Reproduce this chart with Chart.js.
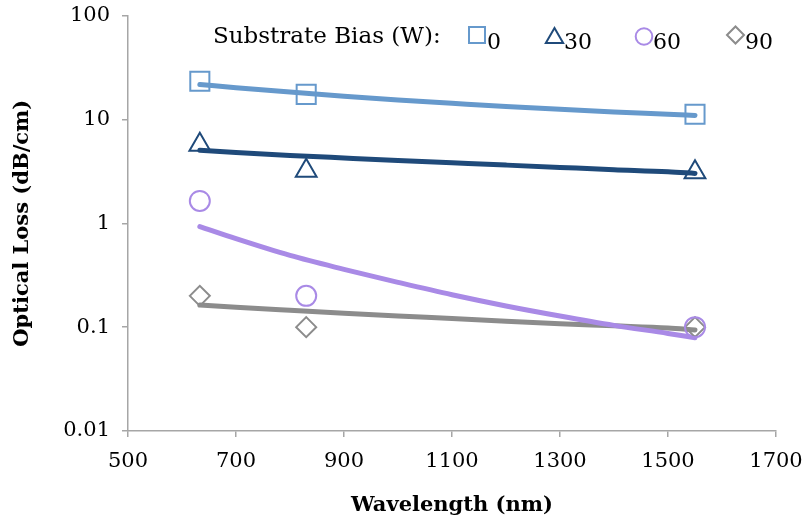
<!DOCTYPE html>
<html>
<head>
<meta charset="utf-8">
<script src="https://cdn.jsdelivr.net/npm/chart.js@4/dist/chart.umd.min.js"></script>
<style>
  html, body { margin: 0; padding: 0; background: #ffffff; }
  #wrap { width: 805px; height: 522px; position: relative; }
</style>
</head>
<body>
<div id="wrap"><canvas id="c" width="805" height="522"></canvas></div>
<script>
// ---- data ----
const wavelengths = [633, 830, 1550];
const loss0  = [23.3, 17.4, 11.2];
const loss30 = [5.7, 3.2, 3.1];
const loss60 = [1.64, 0.2, 0.1];
const loss90 = [0.2, 0.1, 0.1];

// trend lines (power-law fits)
const trendX   = [633, 700, 800, 900, 1000, 1100, 1200, 1300, 1400, 1500, 1550];
const trend0   = [21.7, 20.2, 18.3, 16.7, 15.4, 14.3, 13.3, 12.5, 11.8, 11.2, 10.9];
const trend30  = [5.05, 4.8, 4.5, 4.25, 4.02, 3.82, 3.63, 3.45, 3.28, 3.13, 3.02];
const trend60  = [0.93, 0.71, 0.49, 0.36, 0.27, 0.205, 0.16, 0.128, 0.104, 0.087, 0.079];
const trend90  = [0.163, 0.155, 0.145, 0.136, 0.128, 0.121, 0.114, 0.108, 0.103, 0.098, 0.094];

const seriesLabels = ['0', '30', '60', '90'];
const legendTitle = 'Substrate Bias (W):';
const yTicks = [0.01, 0.1, 1, 10, 100];
const xTitle = 'Wavelength (nm)';
const yTitle = 'Optical Loss (dB/cm)';

const colors = ['#6699cc', '#1f4a7a', '#a98ae6', '#8c8c8c'];
const trendColors = ['#6699cc', '#1f4a7a', '#a98ae6', '#8c8c8c'];
const styles = ['rect', 'triangle', 'circle', 'rectRot'];
const radii = [13.5, 12, 10, 10];
const legendRadii = [11.3, 10, 8.3, 8.5];

const pts = (xs, ys) => xs.map((x, i) => ({ x: x, y: ys[i] }));
const markerSets = [loss0, loss30, loss60, loss90];
const trendSets = [trend0, trend30, trend60, trend90];

const FONT = "'DejaVu Serif', serif";

const datasets = [];
trendSets.forEach((t, i) => {
  datasets.push({
    label: 'trend ' + seriesLabels[i],
    data: pts(trendX, t),
    showLine: true,
    borderColor: trendColors[i],
    borderWidth: 5,
    pointRadius: 0,
    pointHoverRadius: 0,
    tension: 0.4,
    cubicInterpolationMode: 'monotone',
    borderCapStyle: 'round',
    order: 2
  });
});
markerSets.forEach((m, i) => {
  datasets.push({
    label: seriesLabels[i],
    data: pts(wavelengths, m),
    showLine: false,
    pointStyle: styles[i],
    pointRadius: radii[i],
    pointHoverRadius: radii[i],
    pointBorderWidth: 2,
    pointBackgroundColor: 'rgba(0,0,0,0)',
    pointBorderColor: colors[i],
    borderColor: colors[i],
    backgroundColor: 'rgba(0,0,0,0)',
    order: 1
  });
});

const legendPlugin = {
  id: 'customLegend',
  afterDraw(chart) {
    const ctx = chart.ctx;
    ctx.save();
    ctx.fillStyle = '#000';
    ctx.font = "23px " + FONT;
    ctx.textBaseline = 'alphabetic';
    ctx.textAlign = 'left';
    ctx.fillText(legendTitle, 213, 43);
    const markerX = [477, 554.5, 644, 735.5];
    const markerY = [35, 38, 36.5, 35];
    for (let i = 0; i < 4; i++) {
      ctx.fillStyle = 'rgba(0,0,0,0)';
      ctx.strokeStyle = colors[i];
      ctx.lineWidth = 2;
      Chart.helpers.drawPoint(ctx, {
        pointStyle: styles[i],
        radius: legendRadii[i],
        rotation: 0,
        borderWidth: 2
      }, markerX[i], markerY[i]);
    }
    ctx.fillStyle = '#000';
    ctx.font = "22px " + FONT;
    const textX = [487, 564, 653, 745];
    for (let i = 0; i < 4; i++) {
      ctx.fillText(seriesLabels[i], textX[i], 49);
    }
    ctx.restore();
  }
};

new Chart(document.getElementById('c'), {
  type: 'scatter',
  data: { datasets: datasets },
  options: {
    responsive: false,
    animation: false,
    devicePixelRatio: 1,
    layout: { padding: { left: 10, right: 29, top: 14, bottom: 0 } },
    plugins: {
      legend: { display: false },
      tooltip: { enabled: false }
    },
    scales: {
      x: {
        type: 'linear',
        min: 500,
        max: 1700,
        ticks: {
          stepSize: 200,
          color: '#000',
          font: { family: FONT, size: 21 },
          padding: 12,
          callback: (v) => String(v)
        },
        grid: { display: true, drawOnChartArea: false, drawTicks: true, tickLength: 6, color: '#a6a6a6', lineWidth: 1.5 },
        border: { display: true, color: '#a6a6a6', width: 1.5 },
        title: { display: true, text: xTitle, color: '#000', font: { family: FONT, size: 21, weight: 'bold' }, padding: { top: 6, bottom: 4 } },
        afterFit(scale) { scale.height = 91; scale.paddingLeft = 0; scale.paddingRight = 0; }
      },
      y: {
        type: 'logarithmic',
        min: 0.01,
        max: 100,
        afterBuildTicks(scale) { scale.ticks = yTicks.map(v => ({ value: v, major: true })); },
        ticks: {
          color: '#000',
          font: { family: FONT, size: 21 },
          padding: 12,
          callback: (v) => String(v)
        },
        grid: { display: true, drawOnChartArea: false, drawTicks: true, tickLength: 6, color: '#a6a6a6', lineWidth: 1.5 },
        border: { display: true, color: '#a6a6a6', width: 1.5 },
        title: { display: true, text: yTitle, color: '#000', font: { family: FONT, size: 21, weight: 'bold' }, padding: { top: 0, bottom: 0 } },
        afterFit(scale) { scale.width = 118; scale.paddingTop = 0; scale.paddingBottom = 0; }
      }
    }
  },
  plugins: [legendPlugin]
});
</script>
</body>
</html>
